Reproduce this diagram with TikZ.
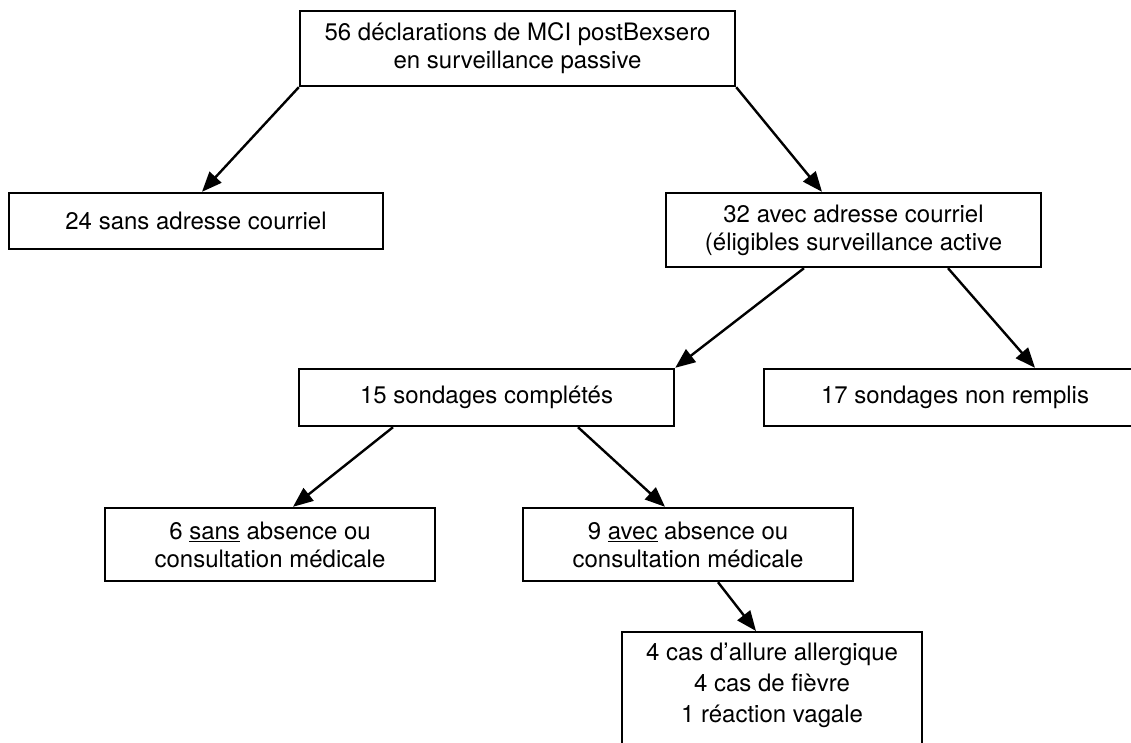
\documentclass[tikz,border=0pt]{standalone}
\usepackage{fontspec}
\setmainfont{TeX Gyre Heros}
\usetikzlibrary{arrows.meta,positioning}

\begin{document}
\begin{tikzpicture}[x=1pt, y=-1pt, >={Triangle[length=20pt,width=16pt]},
  box/.style={draw, line width=2.4pt, align=center, inner sep=0pt, font=\fontsize{24}{28}\selectfont},
  fleche/.style={->, line width=2.4pt}]
\useasboundingbox (0,0) rectangle (1131,742);
\clip (0,0) rectangle (1131,742);
\fill[white] (0,0) rectangle (1131,742);
% boxes
\node[box, minimum width=435pt, minimum height=75pt] (declar) at (517.5,48.5) {56 déclarations de MCI postBexsero\\en surveillance passive};
\node[box, minimum width=374pt, minimum height=56pt] (sansmail) at (196,221) {24 sans adresse courriel};
\node[box, minimum width=375pt, minimum height=74pt] (avecmail) at (853.5,230) {32 avec adresse courriel\\(éligibles surveillance active};
\node[box, minimum width=375pt, minimum height=57pt] (complet) at (486.5,397.5) {15 sondages complétés};
\node[box, minimum width=382pt, minimum height=57pt] (nonrempli) at (955,397.5) {17 sondages non remplis};
\node[box, minimum width=330pt, minimum height=73pt] (sansconsult) at (270,544.5) {6 \underline{sans} absence ou\\consultation médicale};
\node[box, minimum width=330pt, minimum height=73pt] (avecconsult) at (688,544.5) {9 \underline{avec} absence ou\\consultation médicale};
\node[box, anchor=north, minimum width=300pt, inner ysep=11pt, text depth=120pt, font=\fontsize{24}{31}\selectfont] (cas) at (772,631) {4 cas d’allure allergique\\4 cas de fièvre\\1 réaction vagale};
% arrows
\draw[fleche] (declar.south west) -- ([xshift=6pt]sansmail.north);
\draw[fleche] (declar.south east) -- ([xshift=-31.5pt]avecmail.north);
\draw[fleche] ([xshift=-49.5pt]avecmail.south) -- (complet.north east);
\draw[fleche] ([xshift=94.5pt]avecmail.south) -- ([xshift=80pt]nonrempli.north);
\draw[fleche] ([xshift=-93.5pt]complet.south) -- ([xshift=23pt]sansconsult.north);
\draw[fleche] ([xshift=91.5pt]complet.south) -- ([xshift=-23pt]avecconsult.north);
\draw[fleche] ([xshift=30pt]avecconsult.south) -- ([xshift=-16pt]cas.north);
\end{tikzpicture}
\end{document}
